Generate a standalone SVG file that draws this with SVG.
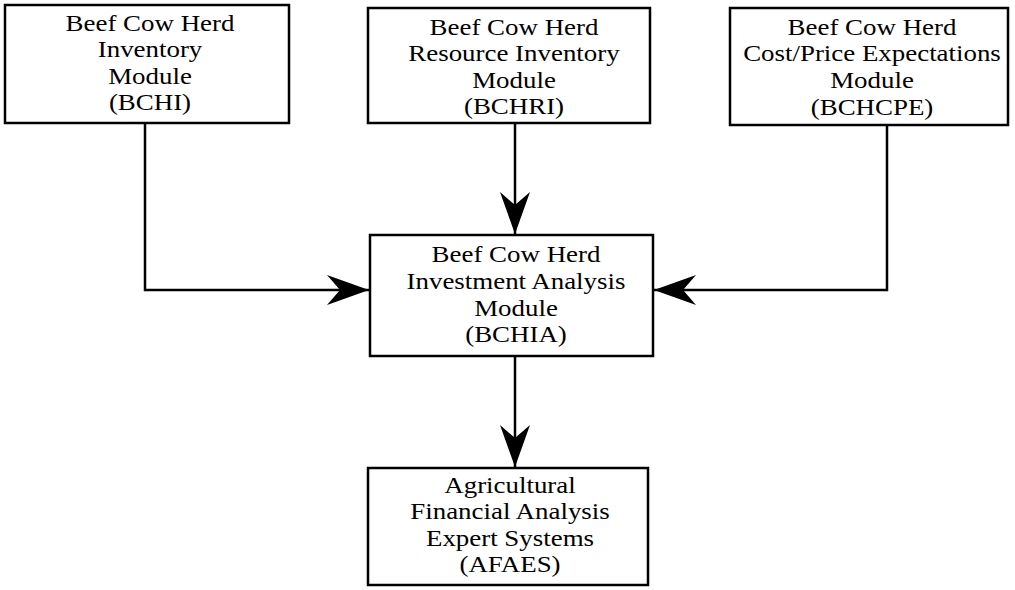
<svg xmlns="http://www.w3.org/2000/svg" width="1015" height="590" viewBox="0 0 1015 590">
<style>
.box{fill:#fff;stroke:#000;stroke-width:2.5}
.t{font-family:"Liberation Serif","Times New Roman",serif;font-size:23px;fill:#000;text-anchor:middle}
.line{fill:none;stroke:#000;stroke-width:2.5}
</style>
<defs>
<marker id="ah" markerUnits="userSpaceOnUse" markerWidth="44" markerHeight="32" viewBox="-42 -16 44 32" refX="0" refY="0" orient="auto">
<path d="M0,0 L-42,-15 L-29,0 L-42,15 Z" fill="#000"/>
</marker>
</defs>
<rect width="1015" height="590" fill="#fff"/>
<g id="connectors">
<path class="line" d="M145,123 V290 H369" marker-end="url(#ah)"/>
<path class="line" d="M515,123 V234" marker-end="url(#ah)"/>
<path class="line" d="M887,125 V290 H654" marker-end="url(#ah)"/>
<path class="line" d="M515,356 V467" marker-end="url(#ah)"/>
</g>
<g id="bchi">
<rect class="box" x="5" y="5" width="284" height="118"/>
<text class="t" transform="translate(150,31) scale(1.17,1)">Beef Cow Herd</text>
<text class="t" transform="translate(150,57) scale(1.17,1)">Inventory</text>
<text class="t" transform="translate(150,84) scale(1.17,1)">Module</text>
<text class="t" transform="translate(150,110) scale(1.17,1)">(BCHI)</text>
</g>
<g id="bchri">
<rect class="box" x="368" y="8" width="282" height="115"/>
<text class="t" transform="translate(514,35) scale(1.17,1)">Beef Cow Herd</text>
<text class="t" transform="translate(514,61) scale(1.17,1)">Resource Inventory</text>
<text class="t" transform="translate(514,88) scale(1.17,1)">Module</text>
<text class="t" transform="translate(514,114) scale(1.17,1)">(BCHRI)</text>
</g>
<g id="bchcpe">
<rect class="box" x="730" y="8" width="278" height="117"/>
<text class="t" transform="translate(872,35) scale(1.17,1)">Beef Cow Herd</text>
<text class="t" transform="translate(872,61) scale(1.17,1)">Cost/Price Expectations</text>
<text class="t" transform="translate(872,88) scale(1.17,1)">Module</text>
<text class="t" transform="translate(872,115) scale(1.17,1)">(BCHCPE)</text>
</g>
<g id="bchia">
<rect class="box" x="370" y="235" width="283" height="121"/>
<text class="t" transform="translate(516,262) scale(1.17,1)">Beef Cow Herd</text>
<text class="t" transform="translate(516,289) scale(1.17,1)">Investment Analysis</text>
<text class="t" transform="translate(516,316) scale(1.17,1)">Module</text>
<text class="t" transform="translate(516,342) scale(1.17,1)">(BCHIA)</text>
</g>
<g id="afaes">
<rect class="box" x="368" y="468" width="280" height="117"/>
<text class="t" transform="translate(510,493) scale(1.17,1)">Agricultural</text>
<text class="t" transform="translate(510,519) scale(1.17,1)">Financial Analysis</text>
<text class="t" transform="translate(510,546) scale(1.17,1)">Expert Systems</text>
<text class="t" transform="translate(510,572) scale(1.17,1)">(AFAES)</text>
</g>
</svg>
